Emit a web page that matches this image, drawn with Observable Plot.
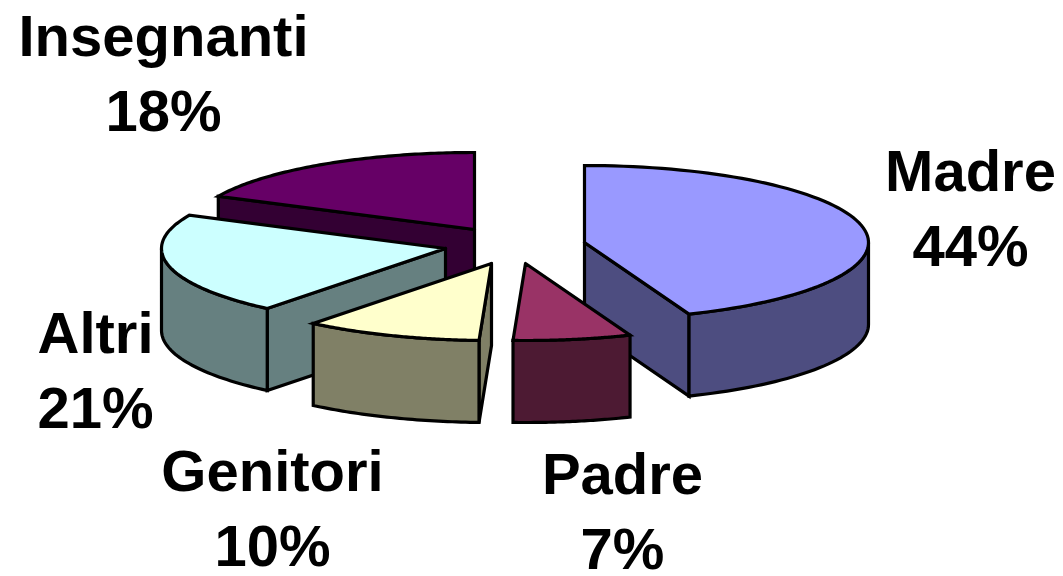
<!DOCTYPE html>
<html>
<head>
<meta charset="utf-8">
<style>html,body{margin:0;padding:0;background:#fff}svg{display:block}</style>
<script src="https://cdn.jsdelivr.net/npm/d3@7"></script>
<script src="https://cdn.jsdelivr.net/npm/@observablehq/plot@0.6"></script>
</head>
<body>
<div id="chart"></div>
<script>
// Data (clockwise from 12 o'clock)
const categories = ["Madre", "Padre", "Genitori", "Altri", "Insegnanti"];
const shares = [44, 6.7, 10.1, 21.3, 17.9];
const percentLabels = ["44%", "7%", "10%", "21%", "18%"];
const topColors = ["#9999ff", "#993366", "#ffffcc", "#ccffff", "#660066"];
const sideColors = ["#4d4d80", "#4d1a33", "#808066", "#668080", "#330033"];

// Layout: exploded slice apexes, label anchors, ellipse of the tilted pie
const apexX = [584, 525, 491, 445, 474];
const apexY = [242, 263, 263, 248, 229];
const labelX = [970, 622, 272, 95, 163];
const labelY = [204, 507, 504, 366, 69];
const rx = 284, ry = 77, depth = 82;
const drawOrder = [4, 3, 0, 2, 1];

const rad = (d) => d * Math.PI / 180;
const total = d3.sum(shares);
const cum = d3.cumsum(shares);
const rim = (i, a) => [apexX[i] + rx * Math.sin(rad(a)), apexY[i] - ry * Math.cos(rad(a))];

const points = [];
function addFace(id, color, pts) {
  [...pts, pts[0]].forEach(([x, y]) => points.push({id, color, x, y}));
}
for (const i of drawOrder) {
  const a0 = (i ? cum[i - 1] : 0) / total * 360;
  const a1 = cum[i] / total * 360;
  const apex = [apexX[i], apexY[i]];
  const down = ([x, y]) => [x, y + depth];
  const cutFace = (a) => [apex, rim(i, a), down(rim(i, a)), down(apex)];
  // Cut faces that turn towards the viewer
  if (a1 < 180) addFace(`${i}-end`, sideColors[i], cutFace(a1));
  if (a0 > 180) addFace(`${i}-start`, sideColors[i], cutFace(a0));
  // Outer wall: the part of the rim on the near half of the pie
  const w0 = Math.max(a0, 90), w1 = Math.min(a1, 270);
  if (w1 > w0) {
    const angles = d3.range(0, 41).map((k) => w0 + (w1 - w0) * k / 40);
    const upper = angles.map((a) => rim(i, a));
    addFace(`${i}-wall`, sideColors[i], [...upper, ...upper.slice().reverse().map(down)]);
  }
  // Top face
  const arc = d3.range(0, 81).map((k) => rim(i, a0 + (a1 - a0) * k / 80));
  addFace(`${i}-top`, topColors[i], [apex, ...arc]);
}

const labels = categories.map((name, i) => ({
  text: `${name}\n${percentLabels[i]}`, x: labelX[i], y: labelY[i]
}));

const chart = Plot.plot({
  width: 1063,
  height: 576,
  margin: 0,
  style: {background: "#fff"},
  x: {domain: [0, 1063], range: [0, 1063], axis: null},
  y: {domain: [0, 576], range: [0, 576], axis: null},
  color: {type: "identity"},
  marks: [
    Plot.line(points, {
      x: "x", y: "y", z: "id", fill: "color", stroke: "#000",
      strokeWidth: 3.2, strokeLinejoin: "miter", strokeMiterlimit: 4
    }),
    Plot.text(labels, {
      x: "x", y: "y", text: "text", textAnchor: "middle", lineAnchor: "middle",
      lineHeight: 1.3, fontSize: 58, fontWeight: 700,
      fontFamily: "'Liberation Sans', Arial, sans-serif", fill: "#000"
    })
  ]
});
document.getElementById("chart").appendChild(chart);
</script>
</body>
</html>
